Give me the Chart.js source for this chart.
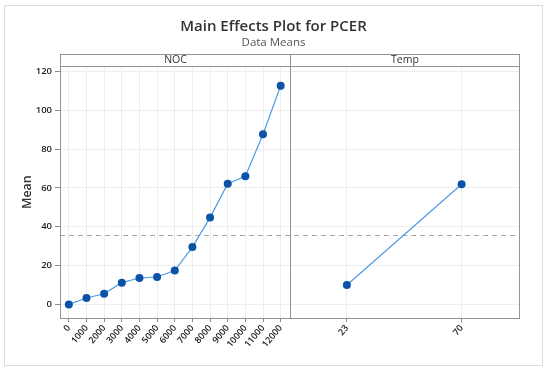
<!DOCTYPE html>
<html>
<head>
<meta charset="utf-8">
<script src="https://cdn.jsdelivr.net/npm/chart.js@4/dist/chart.umd.min.js"></script>
<style>
  html, body { margin: 0; padding: 0; background: #fff; }
  #wrap { position: relative; width: 550px; height: 372px; }
</style>
</head>
<body>
<div id="wrap"><canvas id="chart" width="550" height="372"></canvas></div>
<script>
// factor levels and the response means
const factorNames = ['NOC', 'Temp'];
const nocLevels = ['0', '1000', '2000', '3000', '4000', '5000', '6000', '7000', '8000', '9000', '10000', '11000', '12000'];
const nocMeans = [0, 3.3, 5.5, 11.2, 13.6, 14.1, 17.4, 29.5, 44.7, 62.1, 66.0, 87.6, 112.6];
const tempLevels = ['23', '70'];
const tempMeans = [10.0, 61.9];
const meanTicks = [0, 20, 40, 60, 80, 100, 120];

const grandMean = nocMeans.reduce((a, b) => a + b, 0) / nocMeans.length;

const lineBlue = '#4d9be0';
const dotBlue = '#0b53a6';
const frameGray = '#949494';
const gridGray = '#ededed';

const panelPlugin = {
    id: 'panels',
    beforeDraw(chart) {
        const ctx = chart.ctx;
        ctx.save();
        ctx.fillStyle = '#fff';
        ctx.fillRect(0, 0, chart.width, chart.height);
        ctx.strokeStyle = '#dcdcdc';
        ctx.lineWidth = 1;
        ctx.strokeRect(4.5, 5.5, 538, 360);
        ctx.restore();
    },
    beforeDatasetsDraw(chart) {
        const ctx = chart.ctx;
        const area = chart.chartArea;
        const y = Math.round(chart.scales.y.getPixelForValue(grandMean)) + 0.5;
        ctx.save();
        ctx.strokeStyle = '#a8a8a8';
        ctx.lineWidth = 1;
        ctx.setLineDash([5, 4]);
        ctx.beginPath();
        ctx.moveTo(area.left, y);
        ctx.lineTo(area.right, y);
        ctx.stroke();
        ctx.restore();
    },
    afterDraw(chart) {
        const ctx = chart.ctx;
        const area = chart.chartArea;
        const stripH = 12;
        ctx.save();
        ctx.strokeStyle = frameGray;
        ctx.lineWidth = 1;
        ['xNoc', 'xTemp'].forEach((id, i) => {
            const s = chart.scales[id];
            const l = Math.round(s.left) + 0.5;
            const r = Math.round(s.right) + 0.5;
            const t = Math.round(area.top) + 0.5;
            const b = Math.round(area.bottom) + 0.5;
            ctx.strokeRect(l, t, r - l, b - t);
            ctx.strokeRect(l, t - stripH, r - l, stripH);
            ctx.fillStyle = '#333';
            ctx.font = '10.5px "Open Sans"';
            ctx.textAlign = 'center';
            ctx.textBaseline = 'middle';
            ctx.fillText(factorNames[i], (l + r) / 2, t - stripH / 2);
        });
        ctx.restore();
    }
};

const xAxis = (labels) => ({
    type: 'category',
    labels: labels,
    position: 'bottom',
    stack: 'panels',
    stackWeight: 1,
    offset: true,
    grid: { offset: false, color: gridGray, tickColor: '#8a8a8a', tickLength: 4 },
    border: { display: false },
    ticks: {
        autoSkip: false,
        minRotation: 50,
        maxRotation: 50,
        padding: 1,
        color: '#222',
        font: { family: 'Open Sans', size: 9, weight: '600' }
    },
    afterFit(scale) { scale.height = 54; }
});

new Chart(document.getElementById('chart'), {
    type: 'line',
    data: {
        datasets: [
            {
                label: 'NOC',
                data: nocMeans,
                xAxisID: 'xNoc',
                yAxisID: 'y',
                borderColor: lineBlue,
                borderWidth: 1.2,
                pointBackgroundColor: dotBlue,
                pointBorderWidth: 0,
                pointRadius: 4,
                fill: false
            },
            {
                label: 'Temp',
                data: tempMeans,
                xAxisID: 'xTemp',
                yAxisID: 'y',
                borderColor: lineBlue,
                borderWidth: 1.2,
                pointBackgroundColor: dotBlue,
                pointBorderWidth: 0,
                pointRadius: 4,
                fill: false
            }
        ]
    },
    options: {
        responsive: false,
        animation: false,
        layout: { padding: { left: 4, right: 7, top: 0, bottom: 0 }, autoPadding: false },
        plugins: {
            legend: { display: false },
            tooltip: { enabled: false },
            title: {
                display: true,
                text: 'Main Effects Plot for PCER',
                color: '#333',
                font: { family: 'Open Sans', size: 15, weight: '600' },
                padding: { top: 18, bottom: 0 }
            },
            subtitle: {
                display: true,
                text: 'Data Means',
                color: '#555',
                font: { family: 'Open Sans', size: 11.5 },
                padding: { top: 0, bottom: 16.5 }
            }
        },
        scales: {
            xNoc: xAxis(nocLevels),
            xTemp: xAxis(tempLevels),
            y: {
                type: 'linear',
                position: 'left',
                min: -7,
                max: 122.6,
                grid: { color: gridGray, tickColor: '#8a8a8a', tickLength: 5 },
                border: { display: false },
                afterBuildTicks(scale) { scale.ticks = meanTicks.map(v => ({ value: v })); },
                ticks: {
                    includeBounds: false,
                    padding: 3,
                    color: '#222',
                    font: { family: 'Open Sans', size: 9.5, weight: '600' }
                },
                title: {
                    display: true,
                    text: 'Mean',
                    color: '#333',
                    font: { family: 'Open Sans', size: 12.5, weight: '600' },
                    padding: { top: 16, bottom: 0 }
                },
                afterFit(scale) { scale.width = 56; }
            },
            yPad: {
                type: 'linear',
                position: 'right',
                display: true,
                grid: { display: false },
                border: { display: false },
                ticks: { display: false },
                afterFit(scale) { scale.width = 24; }
            }
        }
    },
    plugins: [panelPlugin]
});
</script>
</body>
</html>
